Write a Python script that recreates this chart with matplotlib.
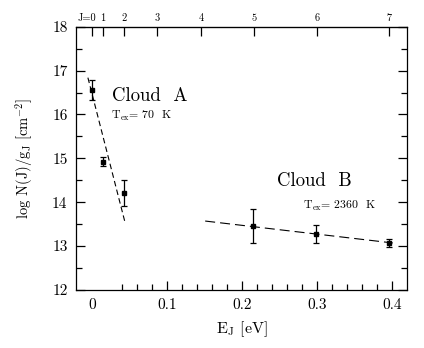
import numpy as np
import matplotlib
matplotlib.use('Agg')
import matplotlib.pyplot as plt
import matplotlib.transforms as mtransforms

plt.rcParams['font.family'] = ['cmr10', 'DejaVu Serif']
plt.rcParams['mathtext.fontset'] = 'cm'
plt.rcParams['axes.unicode_minus'] = False

# measured column densities
cloud_a_e = [0.0, 0.0147, 0.0427]
cloud_a_logn = [16.56, 14.92, 14.21]
cloud_a_err = [0.22, 0.10, 0.30]
cloud_a_fit_e = [-0.0053, 0.044]
cloud_a_fit_logn = [16.84, 13.55]

cloud_b_e = [0.215, 0.299, 0.396]
cloud_b_logn = [13.46, 13.27, 13.07]
cloud_b_err = [0.39, 0.20, 0.10]
cloud_b_fit_e = [0.151, 0.401]
cloud_b_fit_logn = [13.57, 13.07]

# rotational levels on the top axis
j_labels = ['J=0', '1', '2', '3', '4', '5', '6', '7']
j_energies = [0.0, 0.0147, 0.0427, 0.0867, 0.1453, 0.216, 0.300, 0.396]

x_ticks = [0, 0.1, 0.2, 0.3, 0.4]
x_ticklabels = ['0', '0.1', '0.2', '0.3', '0.4']
y_ticks = [12, 13, 14, 15, 16, 17, 18]

fig = plt.figure(figsize=(4.24, 3.48), dpi=100)
ax = fig.add_axes([0.179, 0.167, 0.781, 0.756])

ax.plot(cloud_a_fit_e, cloud_a_fit_logn, color='black', lw=0.8, dashes=(5, 3))
ax.plot(cloud_b_fit_e, cloud_b_fit_logn, color='black', lw=0.8, dashes=(9, 4.5))
ax.errorbar(cloud_a_e, cloud_a_logn, yerr=cloud_a_err, fmt='s', color='black',
            ms=2.5, elinewidth=0.9, capsize=2.5, capthick=0.9)
ax.errorbar(cloud_b_e, cloud_b_logn, yerr=cloud_b_err, fmt='s', color='black',
            ms=2.5, elinewidth=0.9, capsize=2.5, capthick=0.9)

ax.text(0.0267, 16.42, 'Cloud  A', fontsize=13.5, ha='left', va='center')
ax.text(0.0253, 15.97, r'T$_{\rm ex}$= 70  K', fontsize=8.5, ha='left', va='center')
ax.text(0.247, 14.48, 'Cloud  B', fontsize=13.5, ha='left', va='center')
ax.text(0.281, 13.91, r'T$_{\rm ex}$= 2360  K', fontsize=8.5, ha='left', va='center')

ax.set_xlim(-0.0213, 0.42)
ax.set_ylim(12, 18)

ax.set_xticks(x_ticks)
ax.set_xticklabels(x_ticklabels)
ax.set_xticks(np.arange(0.04, 0.39, 0.02), minor=True)
ax.set_yticks(y_ticks)
ax.set_yticks(np.arange(12.5, 18, 1.0), minor=True)
ax.xaxis.get_major_ticks()[0].tick1line.set_visible(False)

ax.tick_params(which='both', direction='in', top=False, right=True,
               labelsize=11, width=0.9)
ax.tick_params(which='major', length=6.5, pad=6)
ax.tick_params(which='minor', length=4)

for s in ax.spines.values():
    s.set_linewidth(0.9)

top = ax.secondary_xaxis('top')
top.set_xticks(j_energies)
top.set_xticklabels(j_labels)
top.tick_params(direction='in', length=6.5, width=0.9, labelsize=7.5, pad=3)
first = top.get_xticklabels()[0]
first.set_ha('right')
first.set_transform(first.get_transform() +
                    mtransforms.ScaledTranslation(3 / 72, 0, fig.dpi_scale_trans))

ax.set_xlabel(r'E$_{\rm J}$ [eV]', fontsize=11.5, labelpad=5)
ax.set_ylabel(r'log N(J)/g$_{\rm J}$ [cm$^{-2}$]', fontsize=10.5, labelpad=12)

fig.savefig('out.png', dpi=100)
